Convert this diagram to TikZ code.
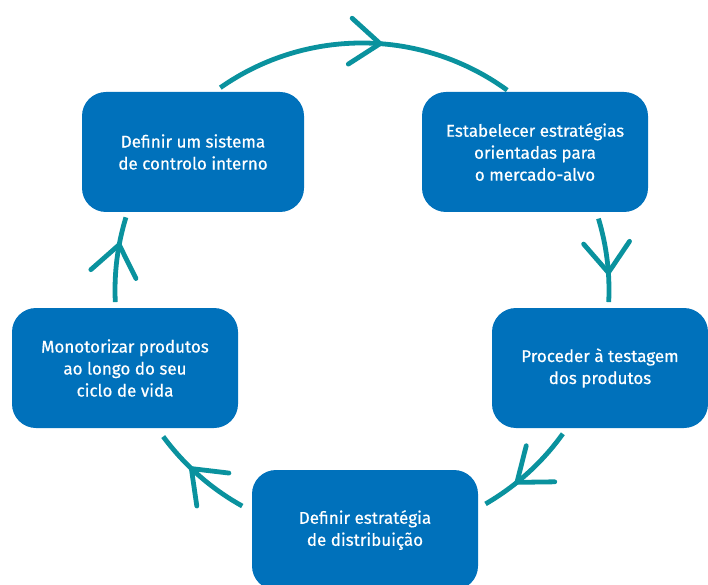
\documentclass[tikz,border=0pt]{standalone}
\usepackage{fontspec}
\setmainfont{Fira Sans}
\newfontfamily\stagefont{Fira Sans}[FakeBold=0.5]
\usetikzlibrary{arrows.meta,calc,decorations.markings}
\definecolor{cycleblue}{HTML}{0071BB}
\definecolor{cycleteal}{HTML}{0A929E}

\begin{document}
\begin{tikzpicture}[
    x=1pt, y=1pt,
    stage/.style={fill=cycleblue, rounded corners=24pt, minimum width=226pt,
                  minimum height=120pt, align=center, text=white,
                  font=\stagefont\fontsize{17}{22}\selectfont},
    flow/.style={cycleteal, line width=4.8pt,
                 decoration={markings, mark=at position #1 with
                   {\arrow{Straight Barb[round, length=30pt, width=46pt]}}},
                 postaction={decorate}},
]
\useasboundingbox (0,0) rectangle (708,584);
\clip (0,0) rectangle (708,584);
\coordinate (c) at (362,294);

% the five stages
\node[stage, minimum width=222pt] (ctrl) at (193,432)
     {Definir um sistema\\de controlo interno};
\node[stage] (mkt) at (535,432)
     {Estabelecer estratégias\\orientadas para\\o mercado-alvo};
\node[stage, minimum width=216pt] (test) at (600,216)
     {Proceder à testagem\\dos produtos};
\node[stage] (dist) at (365,54)
     {Definir estratégia\\de distribuição};
\node[stage] (life) at (125,216)
     {Monotorizar produtos\\ao longo do seu\\ciclo de vida};

% arcs of the cycle, clockwise
\foreach \a/\b/\p in {125/54/0.56, 16.8/-2.8/0.68, -35.6/-60/0.66,
                      241/216.4/0.62, 182.8/162.9/0.70}
  \draw[flow=\p] ($(c)+(\a:247)$) arc[start angle=\a, end angle=\b, radius=247];
\end{tikzpicture}
\end{document}
